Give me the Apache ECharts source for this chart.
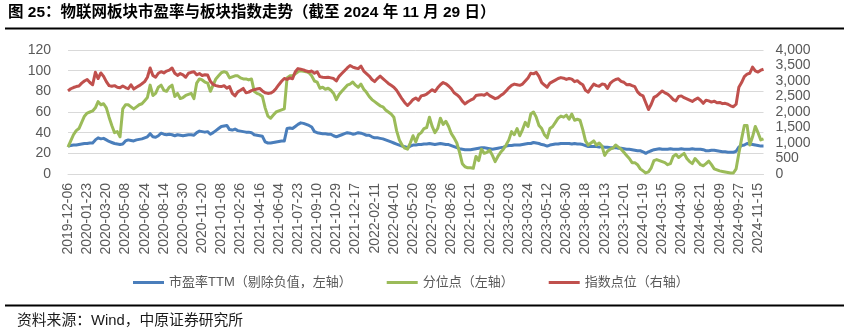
<!DOCTYPE html>
<html>
<head>
<meta charset="utf-8">
<script src="https://cdn.jsdelivr.net/npm/echarts@6.0.0/dist/echarts.min.js"></script>
<style>
  html, body { margin: 0; padding: 0; background: #ffffff; }
  #chart { width: 849px; height: 332px; }
</style>
</head>
<body>
<div id="chart"></div>
<script>
// Weekly dates shown on the category axis (one label every 7 weeks)
const tickDates = [
  '2019-12-06', '2020-01-23', '2020-03-20', '2020-05-08', '2020-06-24', '2020-08-14',
  '2020-09-30', '2020-11-20', '2021-01-08', '2021-02-26', '2021-04-16', '2021-06-04',
  '2021-07-23', '2021-09-10', '2021-10-29', '2021-12-17', '2022-02-11', '2022-04-01',
  '2022-05-20', '2022-07-08', '2022-08-26', '2022-10-21', '2022-12-09', '2023-02-03',
  '2023-03-24', '2023-05-12', '2023-06-30', '2023-08-18', '2023-10-13', '2023-12-01',
  '2024-01-19', '2024-03-15', '2024-04-30', '2024-06-21', '2024-08-09', '2024-09-27',
  '2024-11-15'
];

// 市盈率TTM（剔除负值），左轴
const peTTM = [
  27, 27.5, 28, 28, 28.5, 29, 29.5, 29.5, 30, 30,
  33, 35, 34, 34.5, 33, 31.5, 30.5, 29.5, 29, 28.5,
  29, 32, 33, 32.5, 32, 33, 33.5, 34, 35, 36,
  39, 36, 35.5, 37, 39.5, 38.5, 38, 38.5, 38, 37,
  38, 37.5, 37, 37.5, 38, 38, 37.5, 40, 41.5, 41,
  40.5, 41, 38.5, 40, 42, 44, 46, 46.5, 47, 43,
  42.5, 43.5, 42, 41.5, 41, 40.5, 40.5, 40, 38, 37.5,
  37, 36.5, 31, 30, 30, 30.5, 31, 31.5, 32, 32,
  44, 44.5, 44, 46, 48, 49.5, 49, 48, 47, 45.5,
  41, 40, 39.5, 39, 39, 38.5, 38.5, 37, 36, 37,
  38, 39, 40, 39.5, 38.5, 39, 40, 39.5, 38.5, 37.5,
  37.5, 36, 35, 35, 34.5, 34, 33, 32, 31, 30,
  29, 28, 27, 26.5, 25.5, 27, 28, 28, 28.5, 28.5,
  29, 29, 29.5, 29, 28.5, 29, 29.5, 29, 28.5, 28.5,
  27.5, 26.5, 25.5, 24.5, 24, 23.5, 23.5, 23.5, 24, 24.5,
  25, 25.5, 25.5, 25, 24.5, 24, 24.5, 25, 25.5, 26,
  27, 27.5, 27.5, 28, 28, 28, 28.5, 29, 29.5, 29.5,
  30.5, 30, 29.5, 28.5, 28, 27, 28, 28.5, 29, 29,
  29.5, 29.5, 29.5, 29.5, 29, 29.5, 29, 29, 28.5, 27.5,
  26.5, 26.5, 26.5, 26.5, 26, 26.5, 26, 26, 25.5, 25.5,
  25.5, 25, 25, 24.5, 24, 24, 23.5, 23, 22.5, 22.5,
  21.5, 20, 21.5, 22.5, 23.5, 24, 24.5, 24, 24, 24,
  24.5, 24, 24, 24, 24.5, 24, 24, 24, 24.5, 24,
  24, 24, 23.5, 22.5, 22.5, 23, 23, 22.5, 22, 21.5,
  21.5, 21, 21, 21, 22, 26, 27.5, 28, 29.5, 29,
  28.5, 28, 27.5, 27, 27
];

// 分位点，左轴
const percentile = [
  26, 32, 38, 42, 44, 50, 56, 59, 60, 61,
  64, 70, 67, 68, 64, 55, 47, 40, 41, 36,
  63, 67, 67, 65, 63, 65, 67, 68, 71, 74,
  86, 76, 78, 84, 86, 81, 80, 84, 86, 75,
  78, 73, 74, 76, 77, 78, 73, 88, 92, 91,
  89, 88, 80, 86, 92, 95, 98, 99, 98, 93,
  94, 95, 95, 93, 92, 92, 91, 92, 80, 78,
  77, 75, 64, 56, 54, 57, 60, 61, 62, 63,
  93, 95, 95, 97, 99, 100, 99.5, 99, 98, 95,
  90, 89, 83, 84, 82, 83, 81, 78, 72, 77,
  80, 83, 86, 87, 89, 86, 84, 87, 82, 79,
  75, 72, 70, 68, 66, 65, 62, 60, 58, 55,
  42, 33, 28, 25, 24, 30, 37, 31, 38, 40,
  44, 45, 55, 46, 40, 44, 54, 48, 51, 46,
  39, 35, 30, 21, 10, 7, 6, 6, 5.5, 17,
  13, 24, 20, 21, 23, 18, 12, 17, 21, 24,
  28, 33, 41, 38, 44, 37, 43, 50, 46, 58,
  60, 55, 47, 44, 38, 35, 44, 46, 50, 54,
  56, 55, 57, 53, 58, 52, 53, 52, 43, 32,
  28, 30, 32, 28, 30, 27, 18, 22, 24, 25,
  28, 26, 24, 21, 18, 15, 11, 11, 9, 5,
  3, 1, 2, 6, 13, 14, 13, 12, 11, 9,
  10, 17, 19, 16, 18, 20, 15, 12, 10, 15,
  12, 9, 8, 10, 12.5, 9, 5, 4, 3, 2.5,
  2, 1.5, 1, 1, 5, 20, 34, 47, 47, 28,
  36, 46, 40, 33, 34
];

// 指数点位，右轴
const indexLevel = [
  2680, 2750, 2790, 2820, 2840, 2930, 3000, 3050, 2950, 2880,
  3280, 3080, 3260, 3150, 2980, 2850, 2830, 2850, 2800, 2780,
  2840, 2790, 2750, 2880, 2740, 2800, 2850, 2910, 2980, 3120,
  3420, 3180, 3120, 3250, 3300, 3260, 3320, 3350, 3420, 3250,
  3180, 3240, 3200, 3120, 3250, 3280, 3300, 3200, 3240, 3180,
  3200, 3190, 2990, 2890, 2850, 2830, 2820, 2850, 2770, 2820,
  2600, 2520, 2650, 2700, 2760, 2620, 2640, 2690, 2720, 2740,
  2760, 2680, 2620, 2600, 2610, 2660, 2760, 2880, 2990, 3080,
  3050, 3100, 3070, 3300, 3400, 3380, 3360, 3320, 3300, 3320,
  3250, 3300, 3140, 3120, 3110, 3120, 3100, 3080, 3000, 3150,
  3240, 3330, 3420, 3500, 3450, 3420, 3400, 3480, 3320, 3240,
  3160, 3050, 2980, 3080, 3160, 3080, 3000, 2920, 2860, 2800,
  2700, 2560, 2420, 2300, 2210, 2300, 2400, 2450, 2380, 2520,
  2540, 2580, 2650, 2720, 2660, 2780, 2880, 2950, 2910, 2840,
  2750, 2620, 2560, 2480, 2350, 2260, 2330, 2380, 2420, 2530,
  2550, 2560, 2540, 2600, 2530, 2480, 2430, 2460, 2530, 2590,
  2680, 2780, 2860, 2900, 2880, 2860, 2900, 3000, 3100, 3250,
  3230, 3280, 3150, 2950, 2870, 2800, 2930, 2980, 3030, 3080,
  3110, 3090, 3050, 3080, 3060, 2980, 3010, 2930, 2880, 2700,
  2640, 2780, 2900, 2850, 2830, 2900, 2890, 2760, 2920, 3000,
  3050, 3070, 2990, 2960, 2880, 2890, 2850, 2820, 2650, 2560,
  2520, 2300, 2080, 2250, 2470, 2520, 2600, 2680, 2620, 2580,
  2500, 2400, 2360, 2500, 2520, 2460, 2420, 2380, 2340, 2400,
  2450, 2380, 2280, 2380, 2360, 2320, 2350, 2300, 2310, 2270,
  2280, 2250, 2200, 2170, 2250, 2800, 2950, 3140, 3220, 3250,
  3450, 3330, 3290, 3350, 3380
];

const seriesNames = ['市盈率TTM（剔除负值，左轴）', '分位点（左轴）', '指数点位（右轴）'];
const seriesColors = ['#4A7EBB', '#9BBB59', '#C0504D'];

// Build the weekly category list: each labelled date followed by the six
// weeks up to the next label; the last label is followed by two more weeks.
function addDays(iso, n) {
  const d = new Date(iso + 'T00:00:00Z');
  d.setUTCDate(d.getUTCDate() + n);
  return d.toISOString().slice(0, 10);
}
const categories = [];
tickDates.forEach((t, k) => {
  categories.push(t);
  const extra = k < tickDates.length - 1 ? 6 : 2;
  for (let j = 1; j <= extra; j++) categories.push(addDays(t, 7 * j));
});

const FONT = '"Liberation Sans", "Noto Sans CJK SC", sans-serif';
const AXIS_TEXT = '#595959';
const GRID_LINE = '#D9D9D9';

const chart = echarts.init(document.getElementById('chart'), null, { renderer: 'canvas' });

chart.setOption({
  animation: false,
  backgroundColor: '#ffffff',
  textStyle: { fontFamily: FONT },
  title: [
    {
      text: '图 25：物联网板块市盈率与板块指数走势（截至 2024 年 11 月 29 日）',
      left: 8, top: 5, padding: 0,
      textStyle: { fontSize: 15.5, fontWeight: 'bold', color: '#000000', fontFamily: FONT }
    },
    {
      text: '资料来源：Wind，中原证券研究所',
      left: 17, top: 314, padding: 0,
      textStyle: { fontSize: 14.8, fontWeight: 'normal', color: '#1a1a1a', fontFamily: FONT }
    }
  ],
  graphic: [
    { type: 'rect', left: 5, top: 27.5, shape: { width: 839, height: 2 }, style: { fill: '#000000' } },
    { type: 'rect', left: 5, top: 304.5, shape: { width: 839, height: 2 }, style: { fill: '#000000' } }
  ],
  legend: {
    left: 128, top: 271,
    icon: 'rect', itemWidth: 31, itemHeight: 3, itemGap: 35,
    textStyle: { fontSize: 13, color: AXIS_TEXT, fontFamily: FONT },
    data: seriesNames
  },
  grid: { left: 68, right: 85.5, top: 50, bottom: 158, containLabel: false },
  xAxis: {
    type: 'category',
    data: categories,
    boundaryGap: false,
    axisLine: { lineStyle: { color: GRID_LINE, width: 1 } },
    axisTick: { show: false },
    axisLabel: { interval: 6, rotate: 90, margin: 9, fontSize: 14, color: AXIS_TEXT, fontFamily: FONT },
    splitLine: { show: false }
  },
  yAxis: [
    {
      type: 'value', min: 0, max: 120, interval: 20,
      axisLine: { show: false }, axisTick: { show: false },
      axisLabel: { margin: 17, fontSize: 14, color: AXIS_TEXT, fontFamily: FONT },
      splitLine: { lineStyle: { color: GRID_LINE, width: 1 } }
    },
    {
      type: 'value', min: 0, max: 4000, interval: 500, position: 'right',
      axisLine: { show: false }, axisTick: { show: false },
      axisLabel: {
        margin: 12, fontSize: 14, color: AXIS_TEXT, fontFamily: FONT,
        formatter: v => v.toLocaleString('en-US')
      },
      splitLine: { show: false }
    }
  ],
  series: [
    { name: seriesNames[0], data: peTTM, yAxisIndex: 0 },
    { name: seriesNames[1], data: percentile, yAxisIndex: 0 },
    { name: seriesNames[2], data: indexLevel, yAxisIndex: 1 }
  ].map((s, i) => Object.assign({
    type: 'line',
    showSymbol: false,
    symbol: 'none',
    color: seriesColors[i],
    lineStyle: { width: 3, color: seriesColors[i], join: 'round' },
    emphasis: { disabled: true },
    silent: true
  }, s))
});
</script>
</body>
</html>
